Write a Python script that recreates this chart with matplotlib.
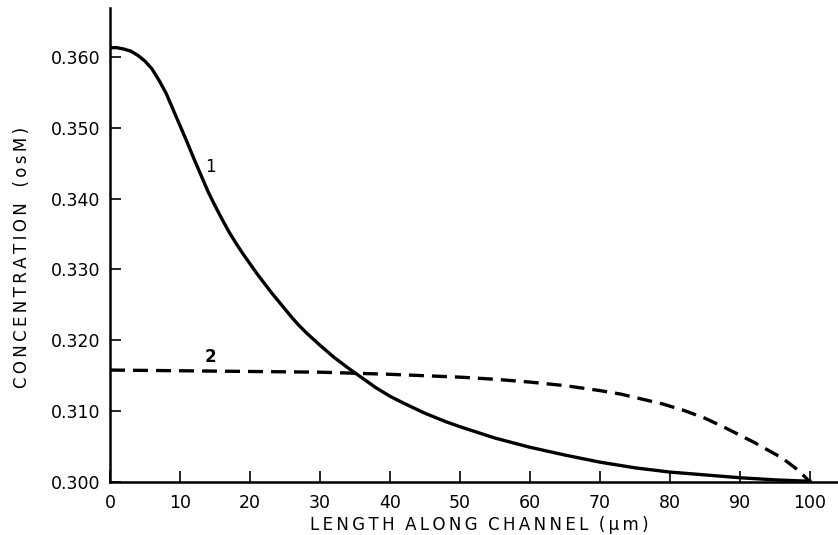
import matplotlib
matplotlib.use("Agg")
import matplotlib.pyplot as plt

# curve 1 (solid) and curve 2 (dashed)
x1 = [0, 1, 2, 3, 4, 5, 6, 7, 8, 9, 10, 11, 12, 13, 14, 15, 16, 17, 18, 19,
      20, 21, 22, 23, 24, 25, 26, 27, 28, 29, 30, 32, 34, 36, 38, 40, 42,
      45, 48, 50, 55, 60, 65, 70, 75, 80, 85, 90, 95, 100]
y1 = [0.3613, 0.3613, 0.3611, 0.3608, 0.3602, 0.3594, 0.3583, 0.3567,
      0.3549, 0.3526, 0.3503, 0.3480, 0.3456, 0.3433, 0.3410, 0.3390,
      0.3371, 0.3353, 0.3337, 0.3322, 0.3308, 0.3294, 0.3281, 0.3268,
      0.3256, 0.3244, 0.3232, 0.3221, 0.3211, 0.3202, 0.3193, 0.3176,
      0.3161, 0.3147, 0.3133, 0.3121, 0.3111, 0.3097, 0.3085, 0.3078,
      0.3062, 0.3049, 0.3038, 0.3028, 0.3020, 0.3014, 0.3010, 0.3006,
      0.3003, 0.3001]

x2 = [0, 10, 20, 30, 40, 50, 55, 60, 65, 70, 73, 76, 79, 82, 85, 88, 90,
      92, 94, 96, 98, 99, 100]
y2 = [0.3158, 0.3157, 0.3156, 0.3155, 0.3152, 0.3148, 0.3145, 0.3141,
      0.3136, 0.3129, 0.3124, 0.3117, 0.3110, 0.3101, 0.3090, 0.3076,
      0.3066, 0.3056, 0.3045, 0.3034, 0.3019, 0.3010, 0.3000]

xticks = [0, 10, 20, 30, 40, 50, 60, 70, 80, 90, 100]
yticks = [0.300, 0.310, 0.320, 0.330, 0.340, 0.350, 0.360]


def spaced(words, gap="  "):
    # letter-spaced caps, like the hand lettering of the original
    return gap.join("\u2009".join(w) for w in words)


fig = plt.figure(figsize=(8.38, 5.35), dpi=100)
ax = fig.add_axes([110 / 838, 53 / 535, 728 / 838, 474 / 535])

ax.plot(x1, y1, color="black", linewidth=2.4, solid_joinstyle="round")
ax.plot(x2, y2, color="black", linewidth=2.4, dashes=(4.5, 2.4))

ax.set_xlim(0, 104)
ax.set_ylim(0.300, 0.3669)

ax.spines["top"].set_visible(False)
ax.spines["right"].set_visible(False)
ax.spines["left"].set_linewidth(1.8)
ax.spines["bottom"].set_linewidth(1.8)

ax.set_xticks(xticks)
ax.set_yticks(yticks)
ax.set_yticklabels([f"{v:.3f}" for v in yticks])
ax.tick_params(direction="in", length=8, width=1.2, labelsize=12.5, pad=7)
ax.tick_params(axis="x", pad=9)

ax.text(14.4, 0.3445, "1", fontsize=12, ha="center", va="center")
ax.text(14.3, 0.3176, "2", fontsize=12, fontweight="bold", ha="center", va="center")

fig.text(0.5716, 0.019, spaced(["LENGTH", "ALONG", "CHANNEL", "(\u03bcm)"]),
         fontsize=12, ha="center", va="center")
fig.text(0.0257, 0.518, spaced(["CONCENTRATION", "(osM)"], "   "),
         fontsize=12, ha="center", va="center", rotation=90)

fig.savefig("out.png", dpi=100)
